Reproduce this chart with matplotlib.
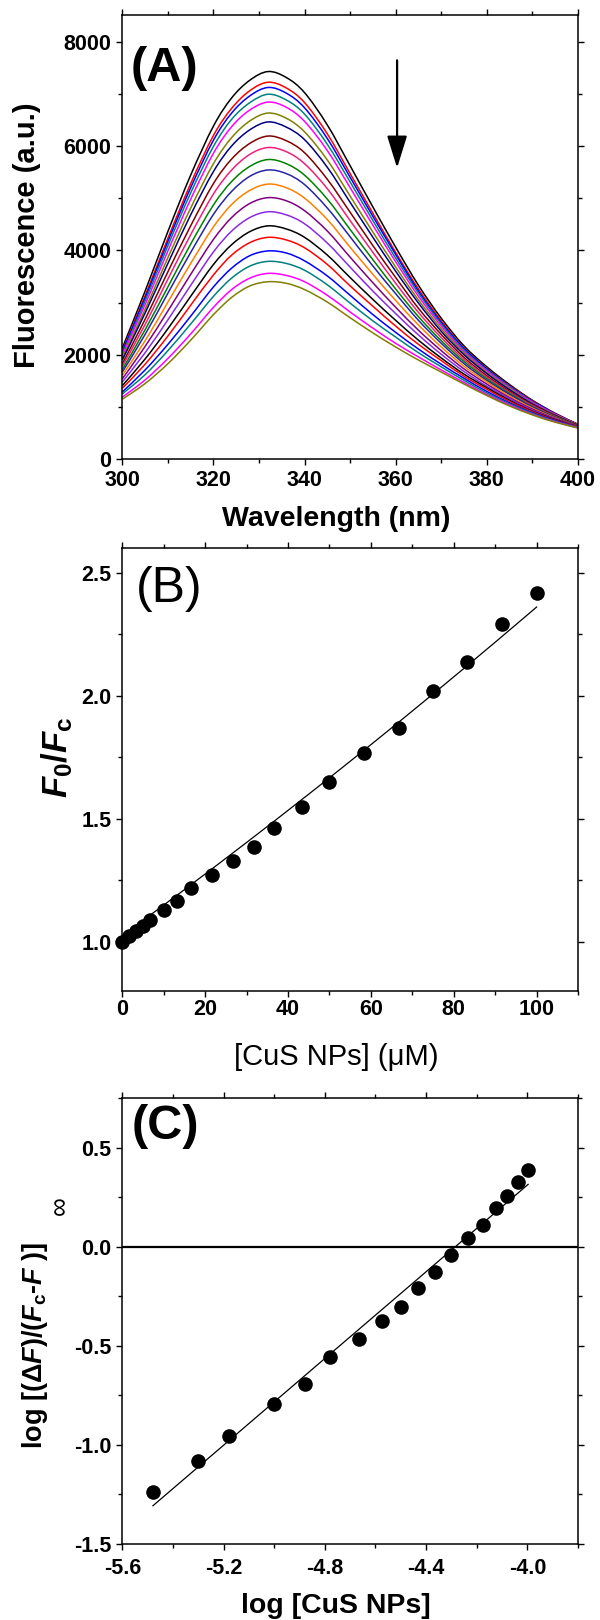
import numpy as np
import matplotlib
matplotlib.use("Agg")
import matplotlib.pyplot as plt
from matplotlib.path import Path
from matplotlib.patches import PathPatch
from matplotlib.ticker import MultipleLocator, FormatStrFormatter

plt.rcParams['font.family'] = ['Liberation Sans', 'DejaVu Sans']
plt.rcParams['axes.unicode_minus'] = False
plt.rcParams['mathtext.fontset'] = 'custom'
plt.rcParams['mathtext.rm'] = 'Liberation Sans:bold'
plt.rcParams['mathtext.it'] = 'Liberation Sans:italic:bold'
plt.rcParams['mathtext.bf'] = 'Liberation Sans:bold'

# (A) emission spectra, one list per titration step (a.u.)
wavelength = [300, 305, 310, 315, 320, 324, 328, 332, 336, 340, 345,
              350, 355, 360, 365, 370, 375, 380, 385, 390, 395, 400]
spectra = [
    [2130, 3220, 4360, 5440, 6380, 6920, 7260, 7425, 7310, 7020, 6400, 5620, 4830, 4060, 3330, 2700, 2170, 1770, 1430, 1130, 880, 670],
    [2080, 3130, 4230, 5280, 6200, 6720, 7060, 7220, 7110, 6830, 6230, 5470, 4710, 3960, 3260, 2650, 2130, 1740, 1410, 1120, 870, 670],
    [2060, 3090, 4170, 5200, 6110, 6630, 6960, 7120, 7010, 6730, 6140, 5400, 4650, 3920, 3220, 2620, 2120, 1730, 1400, 1110, 870, 660],
    [2020, 3030, 4090, 5100, 5990, 6510, 6830, 6990, 6880, 6610, 6030, 5310, 4570, 3850, 3180, 2590, 2090, 1710, 1390, 1100, 860, 660],
    [1990, 2960, 3990, 4980, 5860, 6370, 6690, 6840, 6740, 6470, 5910, 5200, 4480, 3780, 3120, 2550, 2060, 1690, 1370, 1090, 860, 660],
    [1940, 2870, 3860, 4810, 5660, 6160, 6480, 6630, 6530, 6270, 5730, 5040, 4350, 3680, 3050, 2500, 2030, 1660, 1350, 1070, 850, 660],
    [1900, 2800, 3750, 4680, 5510, 6000, 6310, 6460, 6360, 6120, 5590, 4920, 4250, 3600, 2990, 2450, 2000, 1640, 1330, 1060, 840, 650],
    [1830, 2680, 3590, 4470, 5280, 5750, 6050, 6190, 6100, 5870, 5360, 4730, 4090, 3480, 2890, 2390, 1950, 1600, 1300, 1040, 830, 650],
    [1780, 2580, 3450, 4300, 5080, 5540, 5840, 5970, 5890, 5660, 5180, 4570, 3960, 3370, 2810, 2330, 1910, 1570, 1280, 1030, 820, 640],
    [1720, 2480, 3300, 4120, 4870, 5320, 5610, 5740, 5660, 5440, 4980, 4400, 3820, 3260, 2730, 2270, 1870, 1540, 1260, 1010, 810, 640],
    [1670, 2390, 3180, 3960, 4690, 5130, 5420, 5540, 5470, 5260, 4810, 4260, 3700, 3170, 2660, 2220, 1830, 1510, 1240, 1000, 800, 640],
    [1610, 2270, 3010, 3750, 4450, 4880, 5150, 5270, 5200, 5000, 4590, 4060, 3540, 3040, 2570, 2150, 1780, 1480, 1210, 980, 790, 630],
    [1540, 2160, 2840, 3540, 4210, 4630, 4900, 5010, 4950, 4760, 4370, 3870, 3380, 2910, 2470, 2080, 1730, 1440, 1180, 960, 780, 630],
    [1480, 2040, 2670, 3330, 3970, 4370, 4630, 4740, 4680, 4510, 4140, 3680, 3220, 2790, 2380, 2010, 1680, 1400, 1160, 940, 770, 620],
    [1410, 1920, 2500, 3120, 3730, 4110, 4360, 4470, 4410, 4250, 3910, 3480, 3060, 2660, 2280, 1940, 1630, 1370, 1130, 920, 760, 620],
    [1360, 1820, 2360, 2950, 3530, 3910, 4150, 4250, 4200, 4050, 3730, 3320, 2930, 2550, 2200, 1890, 1590, 1340, 1110, 910, 750, 620],
    [1290, 1710, 2200, 2740, 3300, 3660, 3900, 3990, 3950, 3800, 3510, 3140, 2770, 2430, 2110, 1820, 1550, 1300, 1080, 890, 740, 610],
    [1250, 1620, 2080, 2590, 3120, 3470, 3700, 3790, 3750, 3620, 3340, 2990, 2650, 2340, 2040, 1770, 1510, 1270, 1060, 880, 730, 610],
    [1190, 1520, 1930, 2400, 2910, 3250, 3470, 3560, 3520, 3400, 3140, 2820, 2510, 2220, 1960, 1710, 1470, 1240, 1040, 860, 720, 600],
    [1150, 1450, 1830, 2280, 2770, 3100, 3320, 3400, 3370, 3250, 3010, 2710, 2420, 2150, 1900, 1670, 1440, 1220, 1020, 850, 710, 600],
]
spectra_colors = ['#000000', '#FF0000', '#0000FF', '#008080', '#FF00FF',
                  '#808000', '#000080', '#800000', '#F0207A', '#008000',
                  '#2525A5', '#FF8000', '#800080', '#8A2BE2', '#000000',
                  '#FF0000', '#0000FF', '#008080', '#FF00FF', '#808000']

# (B) Stern-Volmer data
conc_uM = [0, 1.67, 3.33, 5.0, 6.67, 10, 13.3, 16.7, 21.7, 26.7,
           31.7, 36.7, 43.3, 50, 58.3, 66.7, 75, 83.3, 91.7, 100]
f0_fc = [1.00, 1.025, 1.045, 1.065, 1.09, 1.13, 1.165, 1.22, 1.272, 1.327,
         1.385, 1.462, 1.547, 1.650, 1.766, 1.870, 2.018, 2.135, 2.291, 2.419]
sv_fit = [1.025, 0.0123, 1.05e-5]   # a + b*x + c*x^2

# (C) double-log plot
log_conc = [-5.479, -5.302, -5.178, -5.001, -4.877, -4.779, -4.665, -4.575, -4.499,
            -4.431, -4.363, -4.301, -4.236, -4.176, -4.124, -4.079, -4.036, -3.997]
log_ratio = [-1.240, -1.082, -0.954, -0.792, -0.691, -0.559, -0.464, -0.376, -0.302,
             -0.210, -0.128, -0.044, 0.044, 0.111, 0.193, 0.258, 0.324, 0.387]
dl_fit = [1.094, 4.687]             # slope, intercept


def smooth_path(x, y):
    # Catmull-Rom through the readings, drawn as cubic Bezier segments
    pts = np.column_stack([x, y]).astype(float)
    verts, codes = [pts[0]], [Path.MOVETO]
    for i in range(len(pts) - 1):
        p0 = pts[i - 1] if i > 0 else pts[i]
        p1, p2 = pts[i], pts[i + 1]
        p3 = pts[i + 2] if i + 2 < len(pts) else pts[i + 1]
        verts += [p1 + (p2 - p0) / 6, p2 - (p3 - p1) / 6, p2]
        codes += [Path.CURVE4] * 3
    return Path(verts, codes)


def style_axes(ax, xpad):
    for s in ax.spines.values():
        s.set_linewidth(1.1)
    ax.tick_params(which='both', direction='out', top=True, right=True,
                   labeltop=False, labelright=False, width=1.0,
                   labelsize=15.5, pad=3.4)
    ax.tick_params(axis='x', which='both', pad=xpad)
    ax.tick_params(which='major', length=4.5)
    ax.tick_params(which='minor', length=2.8)
    for lab in ax.get_xticklabels() + ax.get_yticklabels():
        lab.set_fontweight('bold')


def add_panel(top, bottom):
    L, W = 122.3 / 600, 455.7 / 600
    return fig.add_axes([L, 1 - bottom / 1620, W, (bottom - top) / 1620])


fig = plt.figure(figsize=(6, 16.2), dpi=100)
axA = add_panel(15.4, 459.3)
axB = add_panel(548, 991)
axC = add_panel(1098, 1544)

# ---- (A) spectra
for y, c in zip(spectra, spectra_colors):
    axA.add_patch(PathPatch(smooth_path(wavelength, y), fill=False,
                            edgecolor=c, lw=1.1))
axA.set_xlim(300, 400)
axA.set_ylim(0, 8500)
axA.xaxis.set_major_locator(MultipleLocator(20))
axA.xaxis.set_minor_locator(MultipleLocator(10))
axA.set_yticks([0, 2000, 4000, 6000, 8000])
axA.set_yticks(np.arange(1000, 8000, 2000), minor=True)
axA.annotate('', xy=(360.3, 5580), xytext=(360.3, 7640),
             arrowprops=dict(arrowstyle='-|>,head_length=0.9,head_width=0.28',
                             lw=1.6, color='k', mutation_scale=22,
                             shrinkA=0, shrinkB=0))
axA.text(0.018, 0.93, '(A)', transform=axA.transAxes, fontsize=35,
         fontweight='bold', va='top', ha='left')
axA.set_xlabel('Wavelength (nm)', fontsize=20.5, fontweight='bold', va='center')
axA.xaxis.set_label_coords(0.469, -0.134)
axA.set_ylabel('Fluorescence (a.u.)', fontsize=21, fontweight='bold',
               rotation_mode='default', ha='center', va='center')
axA.yaxis.set_label_coords(-0.209, 0.505)
style_axes(axA, 2.9)

# ---- (B) Stern-Volmer
xf = np.linspace(0, 100, 200)
axB.plot(xf, sv_fit[0] + sv_fit[1] * xf + sv_fit[2] * xf ** 2, color='k', lw=0.9)
axB.plot(conc_uM, f0_fc, 'o', color='k', ms=10.5, mew=0, clip_on=False)
axB.set_xlim(0, 110)
axB.set_ylim(0.8, 2.6)
axB.xaxis.set_major_locator(MultipleLocator(20))
axB.xaxis.set_minor_locator(MultipleLocator(10))
axB.yaxis.set_major_locator(MultipleLocator(0.5))
axB.yaxis.set_minor_locator(MultipleLocator(0.25))
axB.yaxis.set_major_formatter(FormatStrFormatter('%.1f'))
axB.text(0.029, 0.96, '(B)', transform=axB.transAxes, fontsize=36,
         va='top', ha='left')
axB.set_xlabel('[CuS NPs] (\u03bcM)', fontsize=21, va='center')
axB.xaxis.set_label_coords(0.469, -0.148)
axB.set_ylabel(r'$\mathit{F}_{\mathrm{0}}/\mathit{F}_{\mathrm{c}}$', fontsize=25,
               rotation_mode='default', ha='center', va='center')
axB.yaxis.set_label_coords(-0.143, 0.528)
style_axes(axB, 1.0)

# ---- (C) double-log
xl = np.array([log_conc[0], log_conc[-1]])
axC.axhline(0, color='k', lw=1.6)
axC.plot(xl, dl_fit[0] * xl + dl_fit[1], color='k', lw=0.9)
axC.plot(log_conc, log_ratio, 'o', color='k', ms=10.5, mew=0)
axC.set_xlim(-5.6, -3.8)
axC.set_ylim(-1.5, 0.75)
axC.set_xticks([-5.6, -5.2, -4.8, -4.4, -4.0])
axC.xaxis.set_minor_locator(MultipleLocator(0.2))
axC.xaxis.set_major_formatter(FormatStrFormatter('%.1f'))
axC.yaxis.set_major_locator(MultipleLocator(0.5))
axC.yaxis.set_minor_locator(MultipleLocator(0.25))
axC.yaxis.set_major_formatter(FormatStrFormatter('%.1f'))
axC.text(0.021, 0.987, '(C)', transform=axC.transAxes, fontsize=35,
         fontweight='bold', va='top', ha='left')
axC.set_xlabel('log [CuS NPs]', fontsize=20.5, fontweight='bold', va='center')
axC.xaxis.set_label_coords(0.469, -0.139)
axC.set_ylabel(r'log [($\Delta\mathit{F}$)/($\mathit{F}_{\mathrm{c}}$-$\mathit{F}$ )]',
               fontsize=19.5, fontweight='bold',
               rotation_mode='default', ha='center', va='center')
axC.yaxis.set_label_coords(-0.192, 0.445)
fig.text(60 / 600, 1 - 1206 / 1620, '\u221e', rotation=90, fontsize=19,
         ha='center', va='center')
style_axes(axC, 5.5)

fig.savefig('out.png', dpi=100)
